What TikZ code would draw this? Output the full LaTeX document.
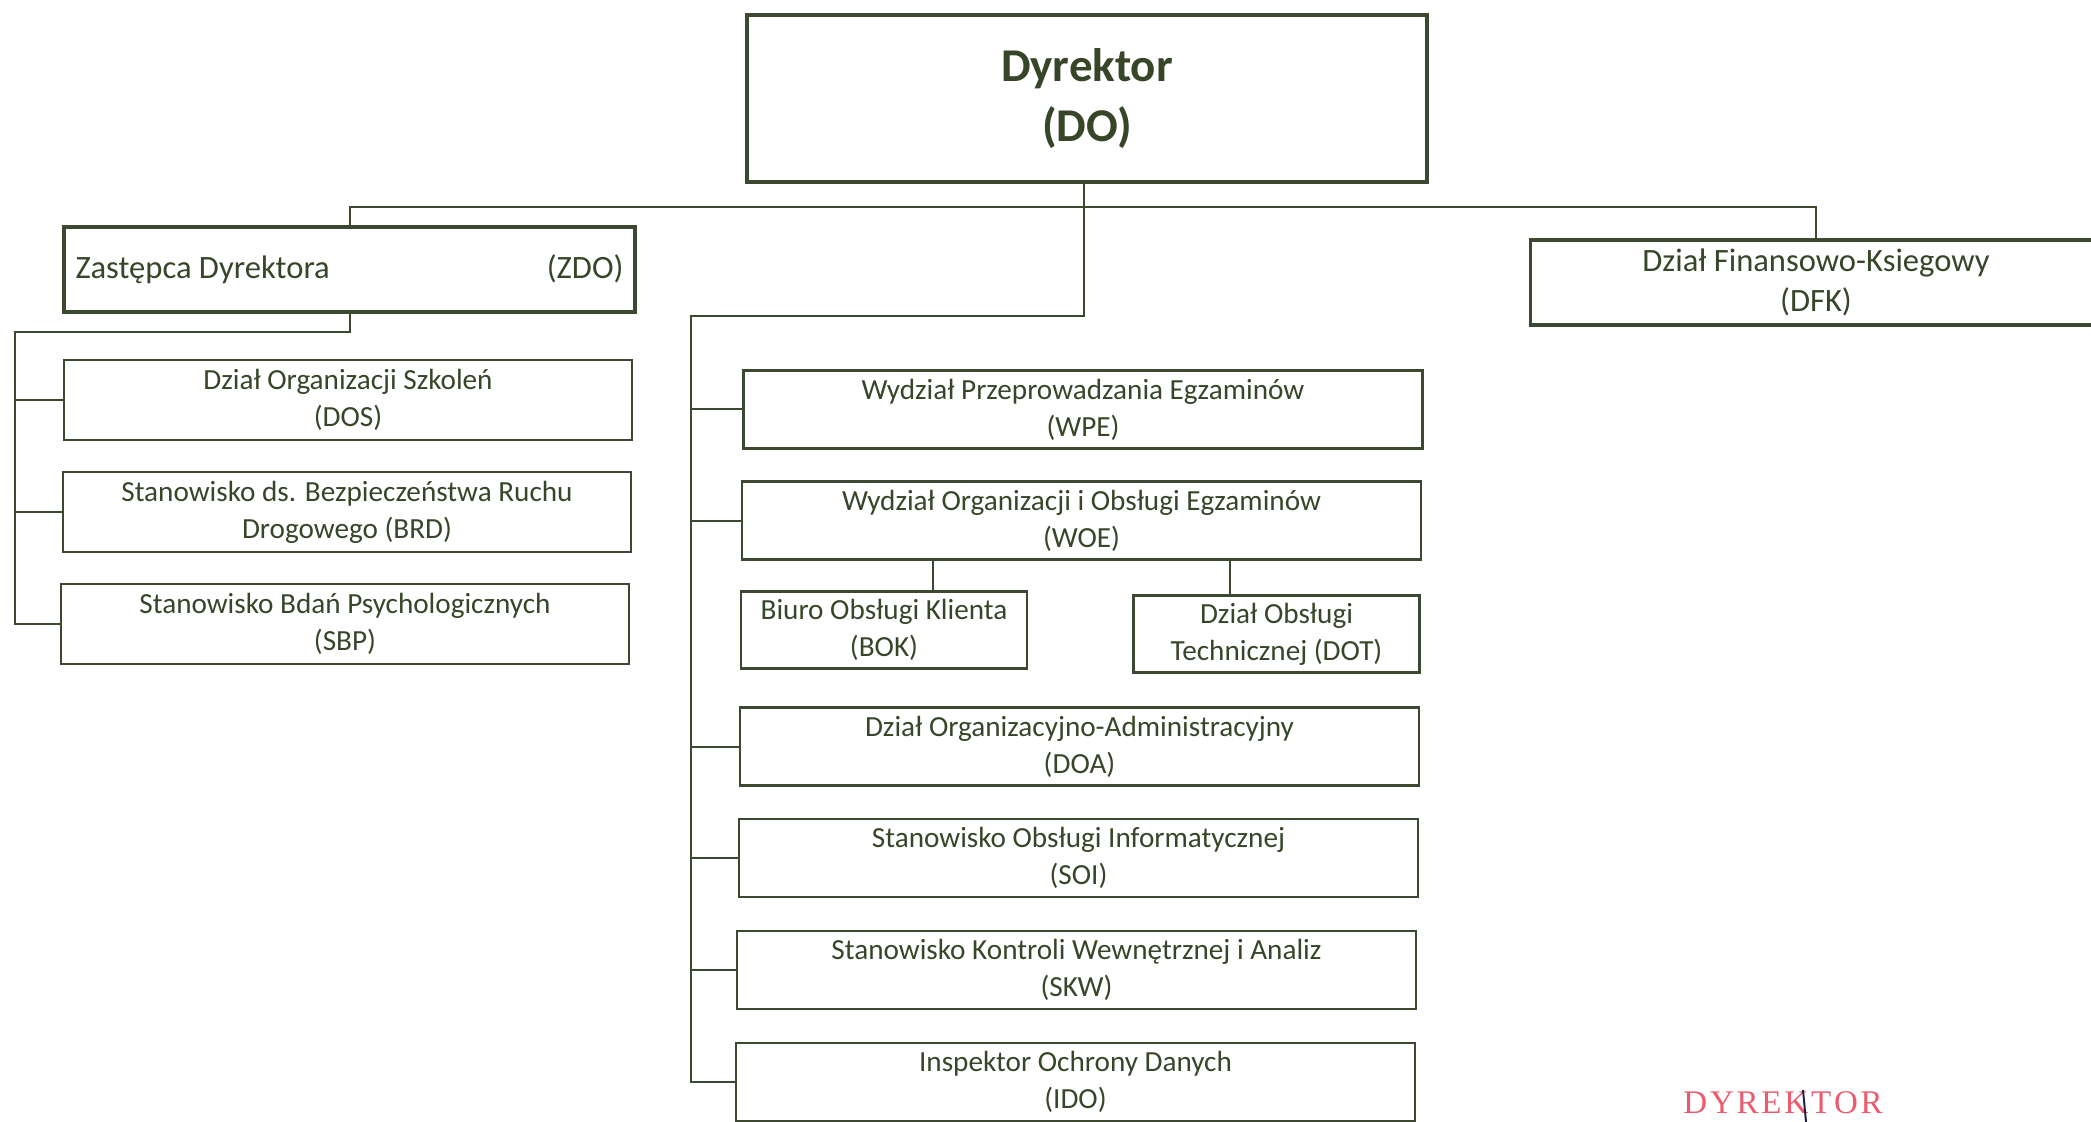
\documentclass[tikz,border=0pt]{standalone}
\usepackage{fontspec}
\setmainfont{Carlito}
\newfontfamily\stampfont{Liberation Serif}
\definecolor{txt}{RGB}{55,70,40}
\definecolor{ln}{RGB}{60,72,48}
\definecolor{stampred}{RGB}{236,90,110}
\definecolor{pen}{RGB}{30,35,70}
\newcommand\stampsp{\kern1.4pt}
\begin{document}
\begin{tikzpicture}[x=0.5pt,y=-0.5pt,
  box/.style={draw=ln, line width=1.25pt, inner sep=0pt, align=center, text=txt, font=\fontsize{14.6}{18.6}\selectfont},
  lbox/.style={box, minimum width=284pt, minimum height=40pt},
  rbox/.style={box, minimum width=339.5pt, minimum height=39pt},
  sbox/.style={box, minimum width=143pt, minimum height=38.5pt},
  bigbox/.style={box, line width=2pt, minimum width=285.5pt, minimum height=42.5pt, font=\fontsize{16.3}{20}\selectfont},
  conn/.style={draw=ln, line width=1pt}]
\useasboundingbox (0,0) rectangle (2091,1122);
% top
\node[box, line width=2pt, minimum width=340pt, minimum height=83.5pt, font=\bfseries\fontsize{23.5}{30}\selectfont] (DO) at (1087,98.5) {\raisebox{-2pt}{Dyrektor}\\\raisebox{-2pt}{(DO)}};
\node[bigbox] (ZDO) at (349.5,269.5) {\hbox to 274pt{Zastępca Dyrektora\hfill(ZDO)}};
\node[bigbox, line width=1.6pt] (DFK) at (1816,282.5) {Dział Finansowo-Ksiegowy\\(DFK)};
% left column
\node[lbox] (DOS) at (348,400) {Dział Organizacji Szkoleń\\(DOS)};
\node[lbox] (BRD) at (347,512) {Stanowisko ds. Bezpieczeństwa Ruchu\\Drogowego (BRD)};
\node[lbox] (SBP) at (345,624) {Stanowisko Bdań Psychologicznych\\(SBP)};
% right column
\node[rbox] (WPE) at (1083,409.5) {Wydział Przeprowadzania Egzaminów\\(WPE)};
\node[rbox] (WOE) at (1081.5,520.5) {Wydział Organizacji i Obsługi Egzaminów\\(WOE)};
\node[sbox] (BOK) at (884,630) {Biuro Obsługi Klienta\\(BOK)};
\node[sbox] (DOT) at (1276.5,634) {Dział Obsługi\\Technicznej (DOT)};
\node[rbox] (DOA) at (1079.5,746.5) {Dział Organizacyjno-Administracyjny\\(DOA)};
\node[rbox] (SOI) at (1078.5,858) {Stanowisko Obsługi Informatycznej\\(SOI)};
\node[rbox] (SKW) at (1076.5,970) {Stanowisko Kontroli Wewnętrznej i Analiz\\(SKW)};
\node[rbox] (IDO) at (1075.5,1082) {Inspektor Ochrony Danych\\(IDO)};
% connectors
\coordinate (hub) at (1084,207);
\coordinate (drop) at (1084,316);
\coordinate (railR) at (691,316);
\coordinate (railL) at (15,332);
\draw[conn] (ZDO.north) -- (ZDO.north |- hub) -- (DFK.north |- hub) -- (DFK.north);
\draw[conn] (DO.south -| drop) -- (drop) -- (railR) -- (railR |- IDO.west) -- (IDO.west);
\foreach \n in {WPE,WOE,DOA,SOI,SKW} \draw[conn] (railR |- \n.west) -- (\n.west);
\draw[conn] (ZDO.south) -- (ZDO.south |- railL) -- (railL) -- (railL |- SBP.west) -- (SBP.west);
\foreach \n in {DOS,BRD} \draw[conn] (railL |- \n.west) -- (\n.west);
\draw[conn] ([xshift=24.5pt]BOK.north) -- ([xshift=24.5pt]BOK.north |- WOE.south);
\draw[conn] ([xshift=-23.5pt]DOT.north) -- ([xshift=-23.5pt]DOT.north |- WOE.south);
% stamp
\node[anchor=base west, inner sep=0pt, text=stampred, font=\stampfont\fontsize{16.5}{18}\selectfont] (stamp) at (1683,1113) {D\stampsp Y\stampsp R\stampsp E\stampsp K\stampsp T\stampsp O\stampsp R};
\draw[pen, line width=1pt] (1803,1090) -- (1806,1122);
\end{tikzpicture}
\end{document}
